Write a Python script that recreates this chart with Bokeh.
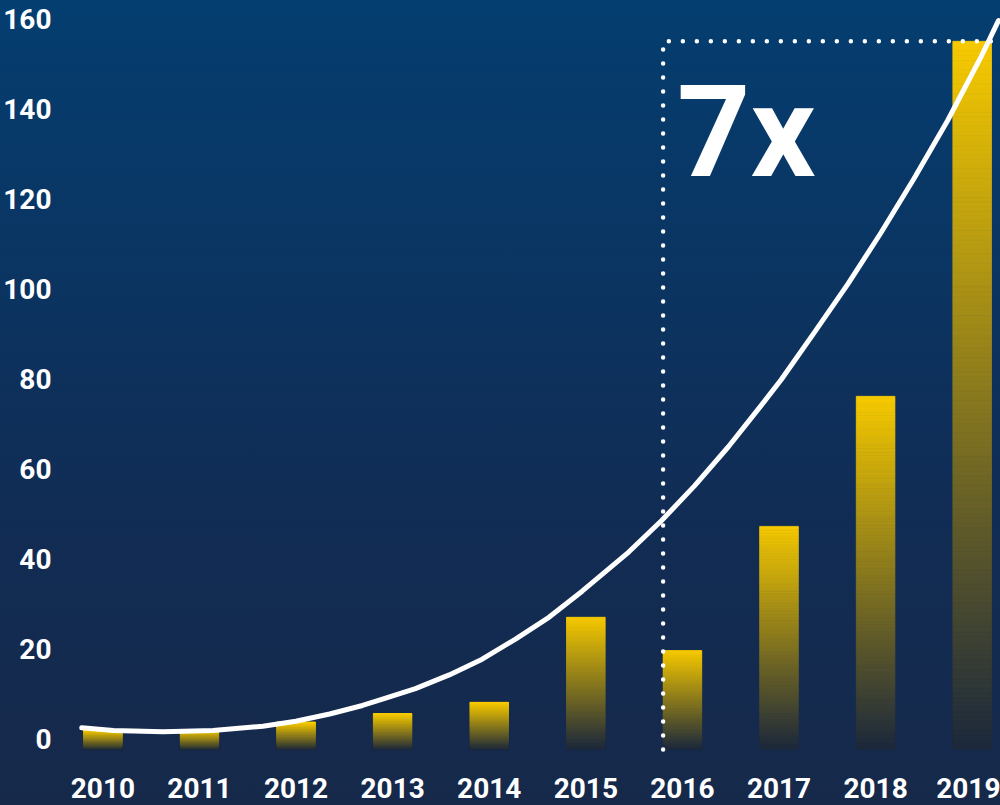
import numpy as np
from bokeh.plotting import figure
from bokeh.models import Range1d, FixedTicker, ColumnDataSource, GlobalInlineStyleSheet
from bokeh.core.properties import value
from bokeh.embed import file_html
from bokeh.resources import INLINE

# ---------------- data ----------------
years = [2010, 2011, 2012, 2013, 2014, 2015, 2016, 2017, 2018, 2019]
bar_values = [2.0, 2.0, 3.7, 5.6, 8.1, 27.0, 19.6, 47.2, 76.1, 155.0]
x_tick_labels = ["2010", "2011", "2012", "2013", "2014", "2015", "2016", "2017", "2018", "2019"]
y_ticks = [0, 20, 40, 60, 80, 100, 120, 140, 160]
y_tick_labels = ["0", "20", "40", "60", "80", "100", "120", "140", "160"]

# trend curve
curve_x = [2009.781, 2010.108, 2010.624, 2011.140, 2011.656, 2011.997, 2012.348, 2012.688,
           2012.895, 2013.236, 2013.586, 2013.927, 2014.268, 2014.618, 2014.959, 2015.444,
           2015.785, 2016.125, 2016.476, 2016.816, 2017.022, 2017.363, 2017.714, 2018.054,
           2018.395, 2018.746, 2019.086, 2019.272]
curve_y = [2.44, 1.84, 1.56, 1.84, 2.80, 3.90, 5.50, 7.40,
           8.80, 11.15, 14.20, 17.70, 22.10, 27.00, 32.75, 41.50,
           48.50, 56.20, 64.90, 74.10, 79.80, 90.20, 101.10, 112.40,
           124.40, 137.40, 151.30, 159.60]

highlight_index = 6          # 2016 .. 2019 highlighted
annotation_text = "7x"
annotation_x = 2016.661
annotation_y = 134.9

# ---------------- style ----------------
FONT = "Roboto"
BAR_W = 0.40
BAR_BASE = -2.4
TOP_RGB = np.array([247, 202, 0])
BOT_RGB = np.array([27, 40, 60])
GRAD = "linear-gradient(180deg, #043e70 0%, #0b3461 35%, #112c54 65%, #16294a 100%)"

p = figure(width=1000, height=805, output_backend="svg", toolbar_location=None,
           x_range=Range1d(2009.613, 2019.2931), y_range=Range1d(-4.16, 164.07),
           min_border_left=62, min_border_right=0, min_border_top=0, min_border_bottom=48,
           border_fill_color=None, background_fill_color=None, outline_line_color=None)
p.styles = {"background": GRAD}
p.stylesheets = [GlobalInlineStyleSheet(css="html{background:%s fixed; min-height:100%%;}" % GRAD)]
p.grid.visible = False

# gradient bars built from slices
n = 150
l, r, b, t, c = [], [], [], [], []
for yr, v in zip(years, bar_values):
    for k in range(n):
        f0 = k / n
        f1 = (k + 1) / n
        fm = (k + 0.5) / n
        rgb = BOT_RGB + (TOP_RGB - BOT_RGB) * fm
        l.append(yr - BAR_W / 2)
        r.append(yr + BAR_W / 2)
        b.append(BAR_BASE + (v - BAR_BASE) * f0)
        t.append(BAR_BASE + (v - BAR_BASE) * f1)
        c.append("#%02x%02x%02x" % tuple(int(round(x)) for x in rgb))
src = ColumnDataSource(dict(left=l, right=r, bottom=b, top=t, color=c))
p.quad(left="left", right="right", bottom="bottom", top="top", fill_color="color",
       line_color="color", line_width=0.8, source=src)

# dotted highlight frame
hx = years[highlight_index] - BAR_W / 2
p.line(x=[hx, hx, years[-1] + BAR_W / 2], y=[BAR_BASE, bar_values[-1], bar_values[-1]],
       line_color="white", line_width=4.5, line_dash="0 14", line_cap="round")

# trend curve
p.line(x=curve_x, y=curve_y, line_color="white", line_width=5, line_cap="round", line_join="round")

# annotation
p.text(x=[annotation_x], y=[annotation_y], text=[annotation_text], text_color="white",
       text_font=value(FONT), text_font_style="bold", text_font_size="128px",
       text_align="center", text_baseline="alphabetic")

# axes
for ax in (p.xaxis[0], p.yaxis[0]):
    ax.axis_line_color = None
    ax.major_tick_line_color = None
    ax.minor_tick_line_color = None
    ax.major_tick_out = 0
    ax.major_tick_in = 0
    ax.major_label_text_color = "white"
    ax.major_label_text_font = FONT
    ax.major_label_text_font_style = "bold"
    ax.major_label_text_font_size = "28px"

p.xaxis.ticker = FixedTicker(ticks=years)
p.xaxis.major_label_overrides = {yr: lab for yr, lab in zip(years, x_tick_labels)}
p.xaxis.major_label_standoff = 20
p.yaxis.ticker = FixedTicker(ticks=y_ticks)
p.yaxis.major_label_overrides = {tk: lab for tk, lab in zip(y_ticks, y_tick_labels)}
p.yaxis.major_label_standoff = 14

open("out.html", "w").write(file_html(p, INLINE))
